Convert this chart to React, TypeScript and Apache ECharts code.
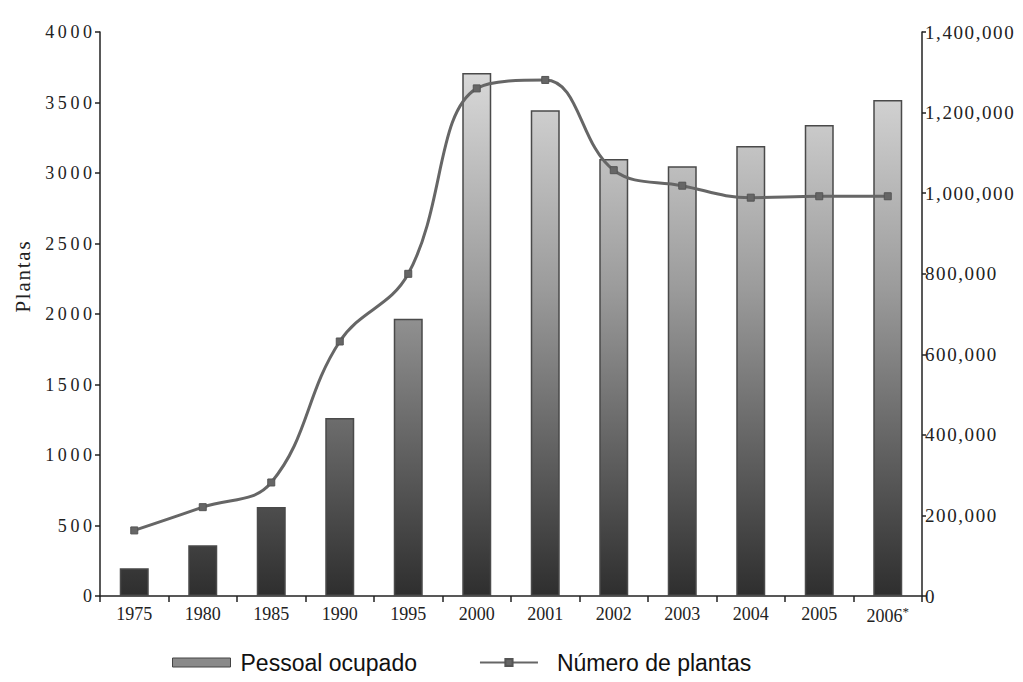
import React, { useEffect, useRef } from "react";
import * as echarts from "echarts";

const categories = ["1975", "1980", "1985", "1990", "1995", "2000", "2001", "2002", "2003", "2004", "2005", "2006"];
const plantas = [465, 630, 805, 1805, 2285, 3600, 3660, 3020, 2910, 2825, 2835, 2835];
const pessoal = [69000, 126000, 221000, 442000, 688000, 1298000, 1206000, 1085000, 1067000, 1117000, 1169000, 1231000];
const leftTicks = { min: 0, max: 4000, interval: 500 };
const rightTicks = { min: 0, max: 1400000, interval: 200000 };

const serif = "'Liberation Serif', 'Times New Roman', serif";
const spaced = (s: string, sp = "\u2009") => s.split("").join(sp);

export default function App() {
  const ref = useRef<HTMLDivElement>(null);
  useEffect(() => {
    if (!ref.current) return;
    const chart = echarts.init(ref.current, undefined, { renderer: "svg" });
    const barGrad = new echarts.graphic.LinearGradient(0, 32, 0, 596, [
      { offset: 0, color: "#e4e4e4" },
      { offset: 0.45, color: "#9c9c9c" },
      { offset: 1, color: "#2e2e2e" },
    ], true);
    chart.setOption({
      animation: false,
      backgroundColor: "#ffffff",
      grid: { left: 100, right: 101, top: 32, bottom: 86, containLabel: false, outerBoundsMode: "none" },
      legend: {
        bottom: 8,
        left: 172,
        padding: 0,
        itemWidth: 58,
        itemHeight: 9,
        itemGap: 62,
        textStyle: {
          fontFamily: "'Liberation Sans', Arial, sans-serif",
          fontSize: 23,
          color: "#111",
          padding: [0, 0, 0, 5],
        },
        data: [
          { name: "Pessoal ocupado", icon: "rect", itemStyle: { color: "#8a8a8a", borderColor: "#444", borderWidth: 1 } },
          {
            name: "Número de plantas",
            textStyle: { fontFamily: "'Liberation Sans', Arial, sans-serif", fontSize: 23, color: "#111", padding: [0, 0, 0, 14] },
          },
        ],
      },
      xAxis: {
        type: "category",
        data: categories,
        boundaryGap: true,
        axisLine: { lineStyle: { color: "#222", width: 1.5 } },
        axisTick: { show: true, length: 6, interval: 0, lineStyle: { color: "#222", width: 1.5 } },
        axisLabel: {
          interval: 0,
          margin: 9,
          fontFamily: serif,
          fontSize: 18,
          color: "#222",
          formatter: (v: string) => (v === "2006" ? "{a|2006}{s|*}" : v),
          rich: {
            a: { fontFamily: serif, fontSize: 18, color: "#222" },
            s: { fontFamily: serif, fontSize: 13, color: "#222", verticalAlign: "top", padding: [0, 0, 8, 0] },
          },
        },
      },
      yAxis: [
        {
          type: "value",
          min: leftTicks.min,
          max: leftTicks.max,
          interval: leftTicks.interval,
          position: "left",
          splitLine: { show: false },
          axisLine: { show: true, lineStyle: { color: "#222", width: 1.5 } },
          axisTick: { show: true, length: 5, lineStyle: { color: "#222", width: 1.5 } },
          axisLabel: {
            margin: 8,
            fontFamily: serif,
            fontSize: 18,
            color: "#222",
            formatter: (v: number) => spaced(String(v)),
          },
        },
        {
          type: "value",
          min: rightTicks.min,
          max: rightTicks.max,
          interval: rightTicks.interval,
          position: "right",
          splitLine: { show: false },
          axisLine: { show: true, lineStyle: { color: "#222", width: 1.5 } },
          axisTick: { show: true, length: 4, lineStyle: { color: "#222", width: 1.5 } },
          axisLabel: {
            margin: 3,
            fontFamily: serif,
            fontSize: 19,
            color: "#222",
            formatter: (v: number) => spaced(v.toLocaleString("en-US"), "\u200A"),
          },
        },
      ],
      graphic: [
        {
          type: "text",
          x: 12,
          y: 277,
          rotation: Math.PI / 2,
          style: {
            text: spaced("Plantas", "\u200A"),
            fontFamily: serif,
            fontSize: 21,
            fill: "#222",
            align: "center",
            verticalAlign: "top",
          },
        },
      ],
      series: [
        {
          name: "Pessoal ocupado",
          type: "bar",
          yAxisIndex: 1,
          data: pessoal,
          barWidth: 29,
          itemStyle: { color: barGrad, borderColor: "#4a4a4a", borderWidth: 1.5 },
          z: 1,
        },
        {
          name: "Número de plantas",
          type: "line",
          yAxisIndex: 0,
          data: plantas,
          smooth: 0.4,
          symbol: "rect",
          symbolSize: 7,
          lineStyle: { color: "#666666", width: 3 },
          itemStyle: { color: "#666666", borderColor: "#555", borderWidth: 1 },
          z: 3,
        },
      ],
    });
    return () => chart.dispose();
  }, []);
  return <div ref={ref} style={{ position: "absolute", left: 0, top: 0, width: 1023, height: 682 }} />;
}
